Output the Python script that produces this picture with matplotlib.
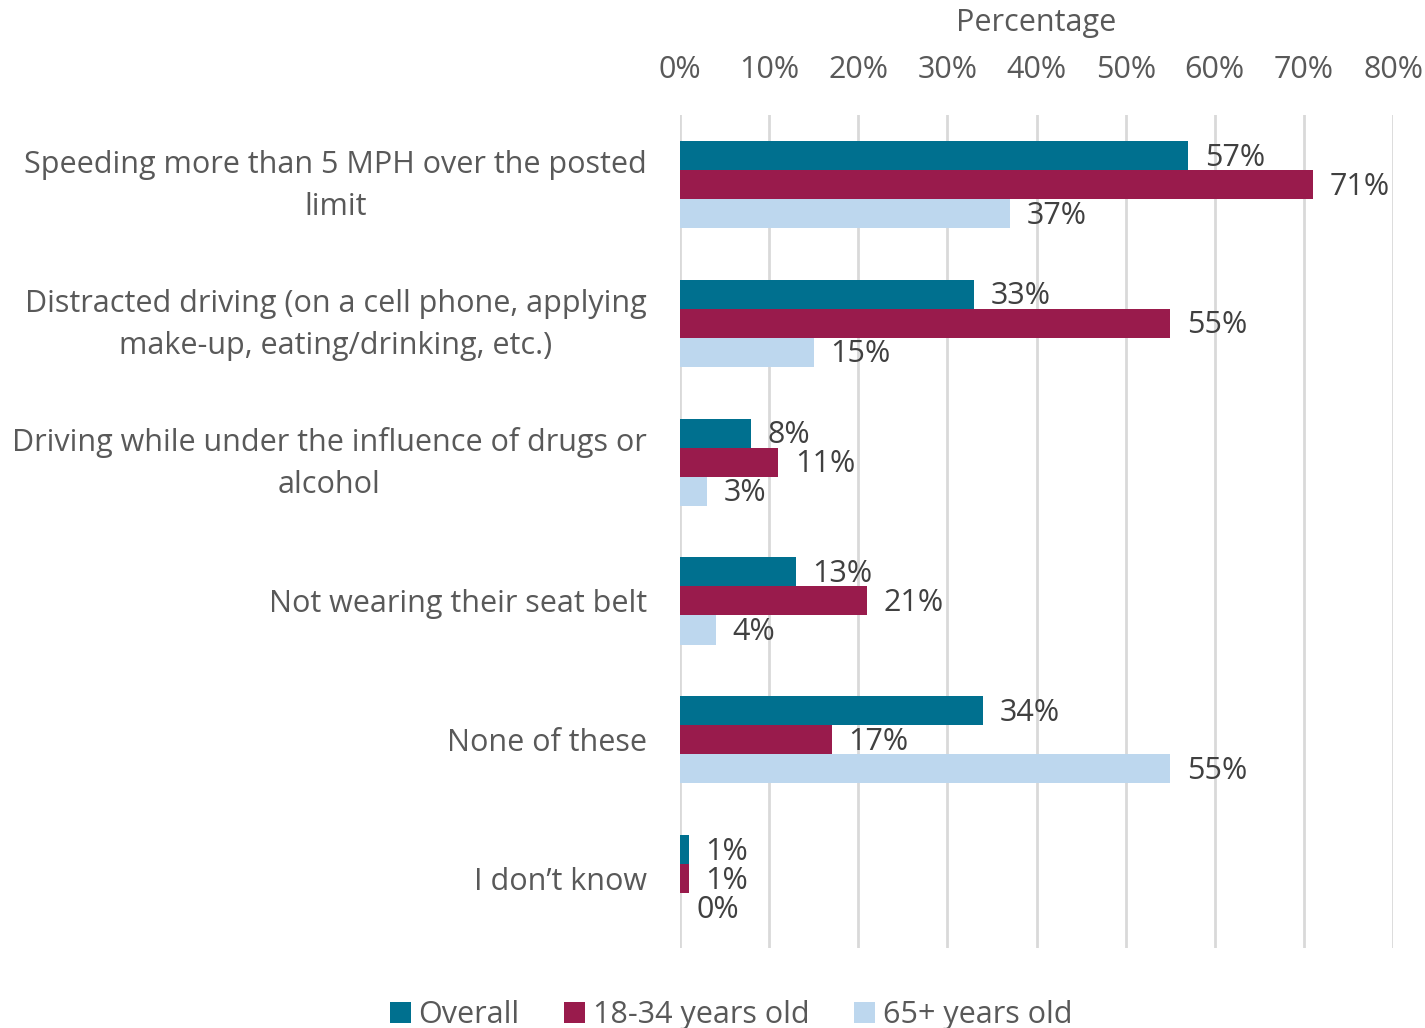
import matplotlib.pyplot as plt
import matplotlib.transforms as mtransforms
import numpy as np
from matplotlib.ticker import PercentFormatter

plt.rcParams['font.family'] = ['Open Sans', 'DejaVu Sans']

# survey answers, top to bottom
categories = [
    "Speeding more than 5 MPH over the posted\nlimit",
    "Distracted driving (on a cell phone, applying\nmake-up, eating/drinking, etc.)",
    "Driving while under the influence of drugs or\nalcohol",
    "Not wearing their seat belt",
    "None of these",
    "I don\u2019t know",
]
overall = [57, 33, 8, 13, 34, 1]
young = [71, 55, 11, 21, 17, 1]
older = [37, 15, 3, 4, 55, 0]
series_names = ["Overall", "18-34 years old", "65+ years old"]
colors = ["#00708f", "#991b4c", "#bdd7ee"]

fig = plt.figure(figsize=(14.25, 10.28), dpi=100)
ax = fig.add_axes([0.4772, 0.0778, 0.5004, 0.8102])

y = np.arange(len(categories))
h = 0.209
for i, (vals, name, c) in enumerate(zip([overall, young, older], series_names, colors)):
    pos = y + (i - 1) * h
    ax.barh(pos, vals, height=h, color=c, label=name, zorder=3)
    for p, v in zip(pos, vals):
        ax.annotate(f"{v}%", (v, p), xytext=(12, -1.5), textcoords="offset points",
                    va="center", ha="left", fontsize=22, color="#404040")

ax.set_xlim(0, 80)
ax.set_ylim(len(categories) - 0.5, -0.5)
ax.set_xticks(np.arange(0, 81, 10))
ax.xaxis.set_major_formatter(PercentFormatter(decimals=0))
ax.xaxis.tick_top()
ax.xaxis.set_label_position("top")
ax.set_xlabel("Percentage", fontsize=22, color="#595959", labelpad=17)
ax.tick_params(axis="x", length=0, pad=22, labelsize=22, labelcolor="#595959")
ax.set_yticks(y)
ax.set_yticklabels(categories, fontsize=22, color="#595959", multialignment="center",
                   linespacing=1.55)
ax.tick_params(axis="y", length=0, pad=24)
# two-line labels sit a little high
lift = mtransforms.ScaledTranslation(0, 6 / 72, fig.dpi_scale_trans)
for lbl in ax.get_yticklabels():
    if "\n" in lbl.get_text():
        lbl.set_transform(lbl.get_transform() + lift)
ax.grid(axis="x", color="#d9d9d9", linewidth=2, zorder=0)
for s in ax.spines.values():
    s.set_visible(False)

fig.legend(loc="lower center", bbox_to_anchor=(0.513, -0.029), ncol=3, frameon=False,
           fontsize=22, labelcolor="#595959", handlelength=0.7, handleheight=0.7,
           handletextpad=0.25, columnspacing=1.45)

fig.savefig("out.png", dpi=100)
